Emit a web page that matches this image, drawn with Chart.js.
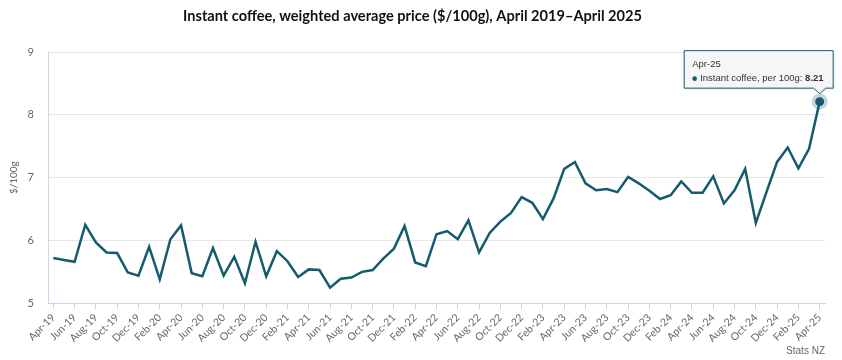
<!DOCTYPE html>
<html>
<head>
<meta charset="utf-8">
<script src="https://cdn.jsdelivr.net/npm/chart.js@4.4.1/dist/chart.umd.min.js"></script>
<style>
  html, body { margin: 0; padding: 0; background: #fff; }
  #wrap { width: 842px; height: 360px; position: relative; }
</style>
</head>
<body>
<div id="wrap"><canvas id="chart"></canvas></div>
<script>
// monthly labels, Apr 2019 - Apr 2025
const months = [
  'Apr-19','May-19','Jun-19','Jul-19','Aug-19','Sep-19','Oct-19','Nov-19','Dec-19',
  'Jan-20','Feb-20','Mar-20','Apr-20','May-20','Jun-20','Jul-20','Aug-20','Sep-20','Oct-20','Nov-20','Dec-20',
  'Jan-21','Feb-21','Mar-21','Apr-21','May-21','Jun-21','Jul-21','Aug-21','Sep-21','Oct-21','Nov-21','Dec-21',
  'Jan-22','Feb-22','Mar-22','Apr-22','May-22','Jun-22','Jul-22','Aug-22','Sep-22','Oct-22','Nov-22','Dec-22',
  'Jan-23','Feb-23','Mar-23','Apr-23','May-23','Jun-23','Jul-23','Aug-23','Sep-23','Oct-23','Nov-23','Dec-23',
  'Jan-24','Feb-24','Mar-24','Apr-24','May-24','Jun-24','Jul-24','Aug-24','Sep-24','Oct-24','Nov-24','Dec-24',
  'Jan-25','Feb-25','Mar-25','Apr-25'
];

// $ per 100g
const prices = [
  5.72, 5.69, 5.66, 6.25, 5.97, 5.81, 5.80, 5.49, 5.44,
  5.90, 5.38, 6.02, 6.24, 5.48, 5.43, 5.88, 5.44, 5.74, 5.32, 5.98, 5.43,
  5.83, 5.67, 5.42, 5.54, 5.53, 5.25, 5.39, 5.41, 5.50, 5.53, 5.71, 5.87,
  6.23, 5.65, 5.59, 6.10, 6.15, 6.02, 6.32, 5.81, 6.12, 6.30, 6.44, 6.69,
  6.60, 6.34, 6.67, 7.14, 7.25, 6.91, 6.80, 6.82, 6.77, 7.01, 6.91, 6.79,
  6.66, 6.72, 6.94, 6.76, 6.76, 7.02, 6.59, 6.80, 7.14, 6.28, 6.77, 7.25,
  7.48, 7.15, 7.46, 8.21
];

const yMin = 5;
const yMax = 9;
const seriesName = 'Instant coffee, per 100g';

const teal = '#155b6e';
const axisLine = '#ccd6eb';
const gridLine = '#e6e6e6';
const textGrey = '#666666';
const last = prices.length - 1;

// hover tooltip + credit, drawn on top of the chart
const extras = {
  id: 'extras',
  afterDraw(chart) {
    const ctx = chart.ctx;
    const pt = chart.getDatasetMeta(0).data[last];
    const x = pt.x, y = pt.y;

    const left = x - 135.5, right = x + 13.5;
    const top = y - 51, bottom = y - 13.5;
    const tipY = y - 8;

    ctx.save();
    ctx.shadowColor = 'rgba(0,0,0,0.12)';
    ctx.shadowOffsetX = 1;
    ctx.shadowOffsetY = 1;
    ctx.shadowBlur = 3;
    ctx.beginPath();
    ctx.moveTo(left, top);
    ctx.lineTo(right, top);
    ctx.lineTo(right, bottom);
    ctx.lineTo(x + 6, bottom);
    ctx.lineTo(x, tipY);
    ctx.lineTo(x - 6, bottom);
    ctx.lineTo(left, bottom);
    ctx.closePath();
    ctx.fillStyle = 'rgba(247,247,247,0.92)';
    ctx.fill();
    ctx.shadowColor = 'transparent';
    ctx.lineWidth = 1;
    ctx.strokeStyle = teal;
    ctx.stroke();

    ctx.textBaseline = 'middle';
    ctx.textAlign = 'left';
    ctx.fillStyle = '#333333';
    ctx.font = '9.5px "Liberation Sans", Arial, sans-serif';
    ctx.fillText(months[last], left + 8, top + 14);

    ctx.fillStyle = teal;
    ctx.beginPath();
    ctx.arc(left + 10.5, top + 28, 2.3, 0, Math.PI * 2);
    ctx.fill();

    ctx.fillStyle = '#333333';
    ctx.font = '9.5px "Liberation Sans", Arial, sans-serif';
    const body = seriesName + ': ';
    ctx.fillText(body, left + 16, top + 28);
    const w = ctx.measureText(body).width;
    ctx.font = 'bold 9.5px "Liberation Sans", Arial, sans-serif';
    ctx.fillText(prices[last].toFixed(2), left + 16 + w, top + 28);

    // source credit
    ctx.font = '10px "Liberation Sans", Arial, sans-serif';
    ctx.fillStyle = textGrey;
    ctx.textAlign = 'right';
    ctx.fillText('Stats NZ', chart.chartArea.right, 351);
    ctx.restore();
  }
};

new Chart(document.getElementById('chart'), {
  type: 'line',
  data: {
    labels: months,
    datasets: [{
      label: seriesName,
      data: prices,
      borderColor: teal,
      backgroundColor: teal,
      borderWidth: 2.5,
      tension: 0,
      pointRadius: ctx => ctx.dataIndex === last ? 4.5 : 0,
      pointBorderWidth: ctx => ctx.dataIndex === last ? 7 : 0,
      pointBorderColor: 'rgba(21,91,110,0.25)',
      pointBackgroundColor: teal,
      pointHoverRadius: 0
    }]
  },
  options: {
    responsive: true,
    maintainAspectRatio: false,
    animation: false,
    events: [],
    layout: { padding: { left: 0, right: 17, top: 0, bottom: 0 } },
    plugins: {
      legend: { display: false },
      tooltip: { enabled: false },
      title: {
        display: true,
        text: 'Instant coffee, weighted average price ($/100g), April 2019–April 2025',
        color: '#111111',
        font: { family: 'Lato', size: 14.6, weight: 'bold' },
        padding: { top: 8, bottom: 26.5 }
      }
    },
    scales: {
      x: {
        type: 'category',
        offset: true,
        afterBuildTicks: scale => {
          scale.ticks = scale.ticks.filter(t => t.value % 2 === 0);
        },
        afterFit: scale => { scale.height = 56.7; },
        grid: {
          display: true,
          offset: false,
          drawOnChartArea: false,
          drawTicks: true,
          tickLength: 6,
          color: axisLine
        },
        border: { display: true, color: axisLine, width: 1 },
        ticks: {
          autoSkip: false,
          maxRotation: 45,
          minRotation: 45,
          padding: 2,
          color: textGrey,
          font: { family: 'Lato', size: 10.5 }
        }
      },
      y: {
        min: yMin,
        max: yMax,
        afterFit: scale => { scale.width = 48; },
        grid: { color: gridLine, drawTicks: false },
        border: { display: true, color: axisLine, width: 1 },
        ticks: {
          stepSize: 1,
          padding: 14,
          color: textGrey,
          font: { family: 'Lato', size: 11 }
        },
        title: {
          display: true,
          text: '$/100g',
          color: textGrey,
          font: { family: 'Lato', size: 10 },
          padding: { top: 8, bottom: 0 }
        }
      }
    }
  },
  plugins: [extras]
});
</script>
</body>
</html>
